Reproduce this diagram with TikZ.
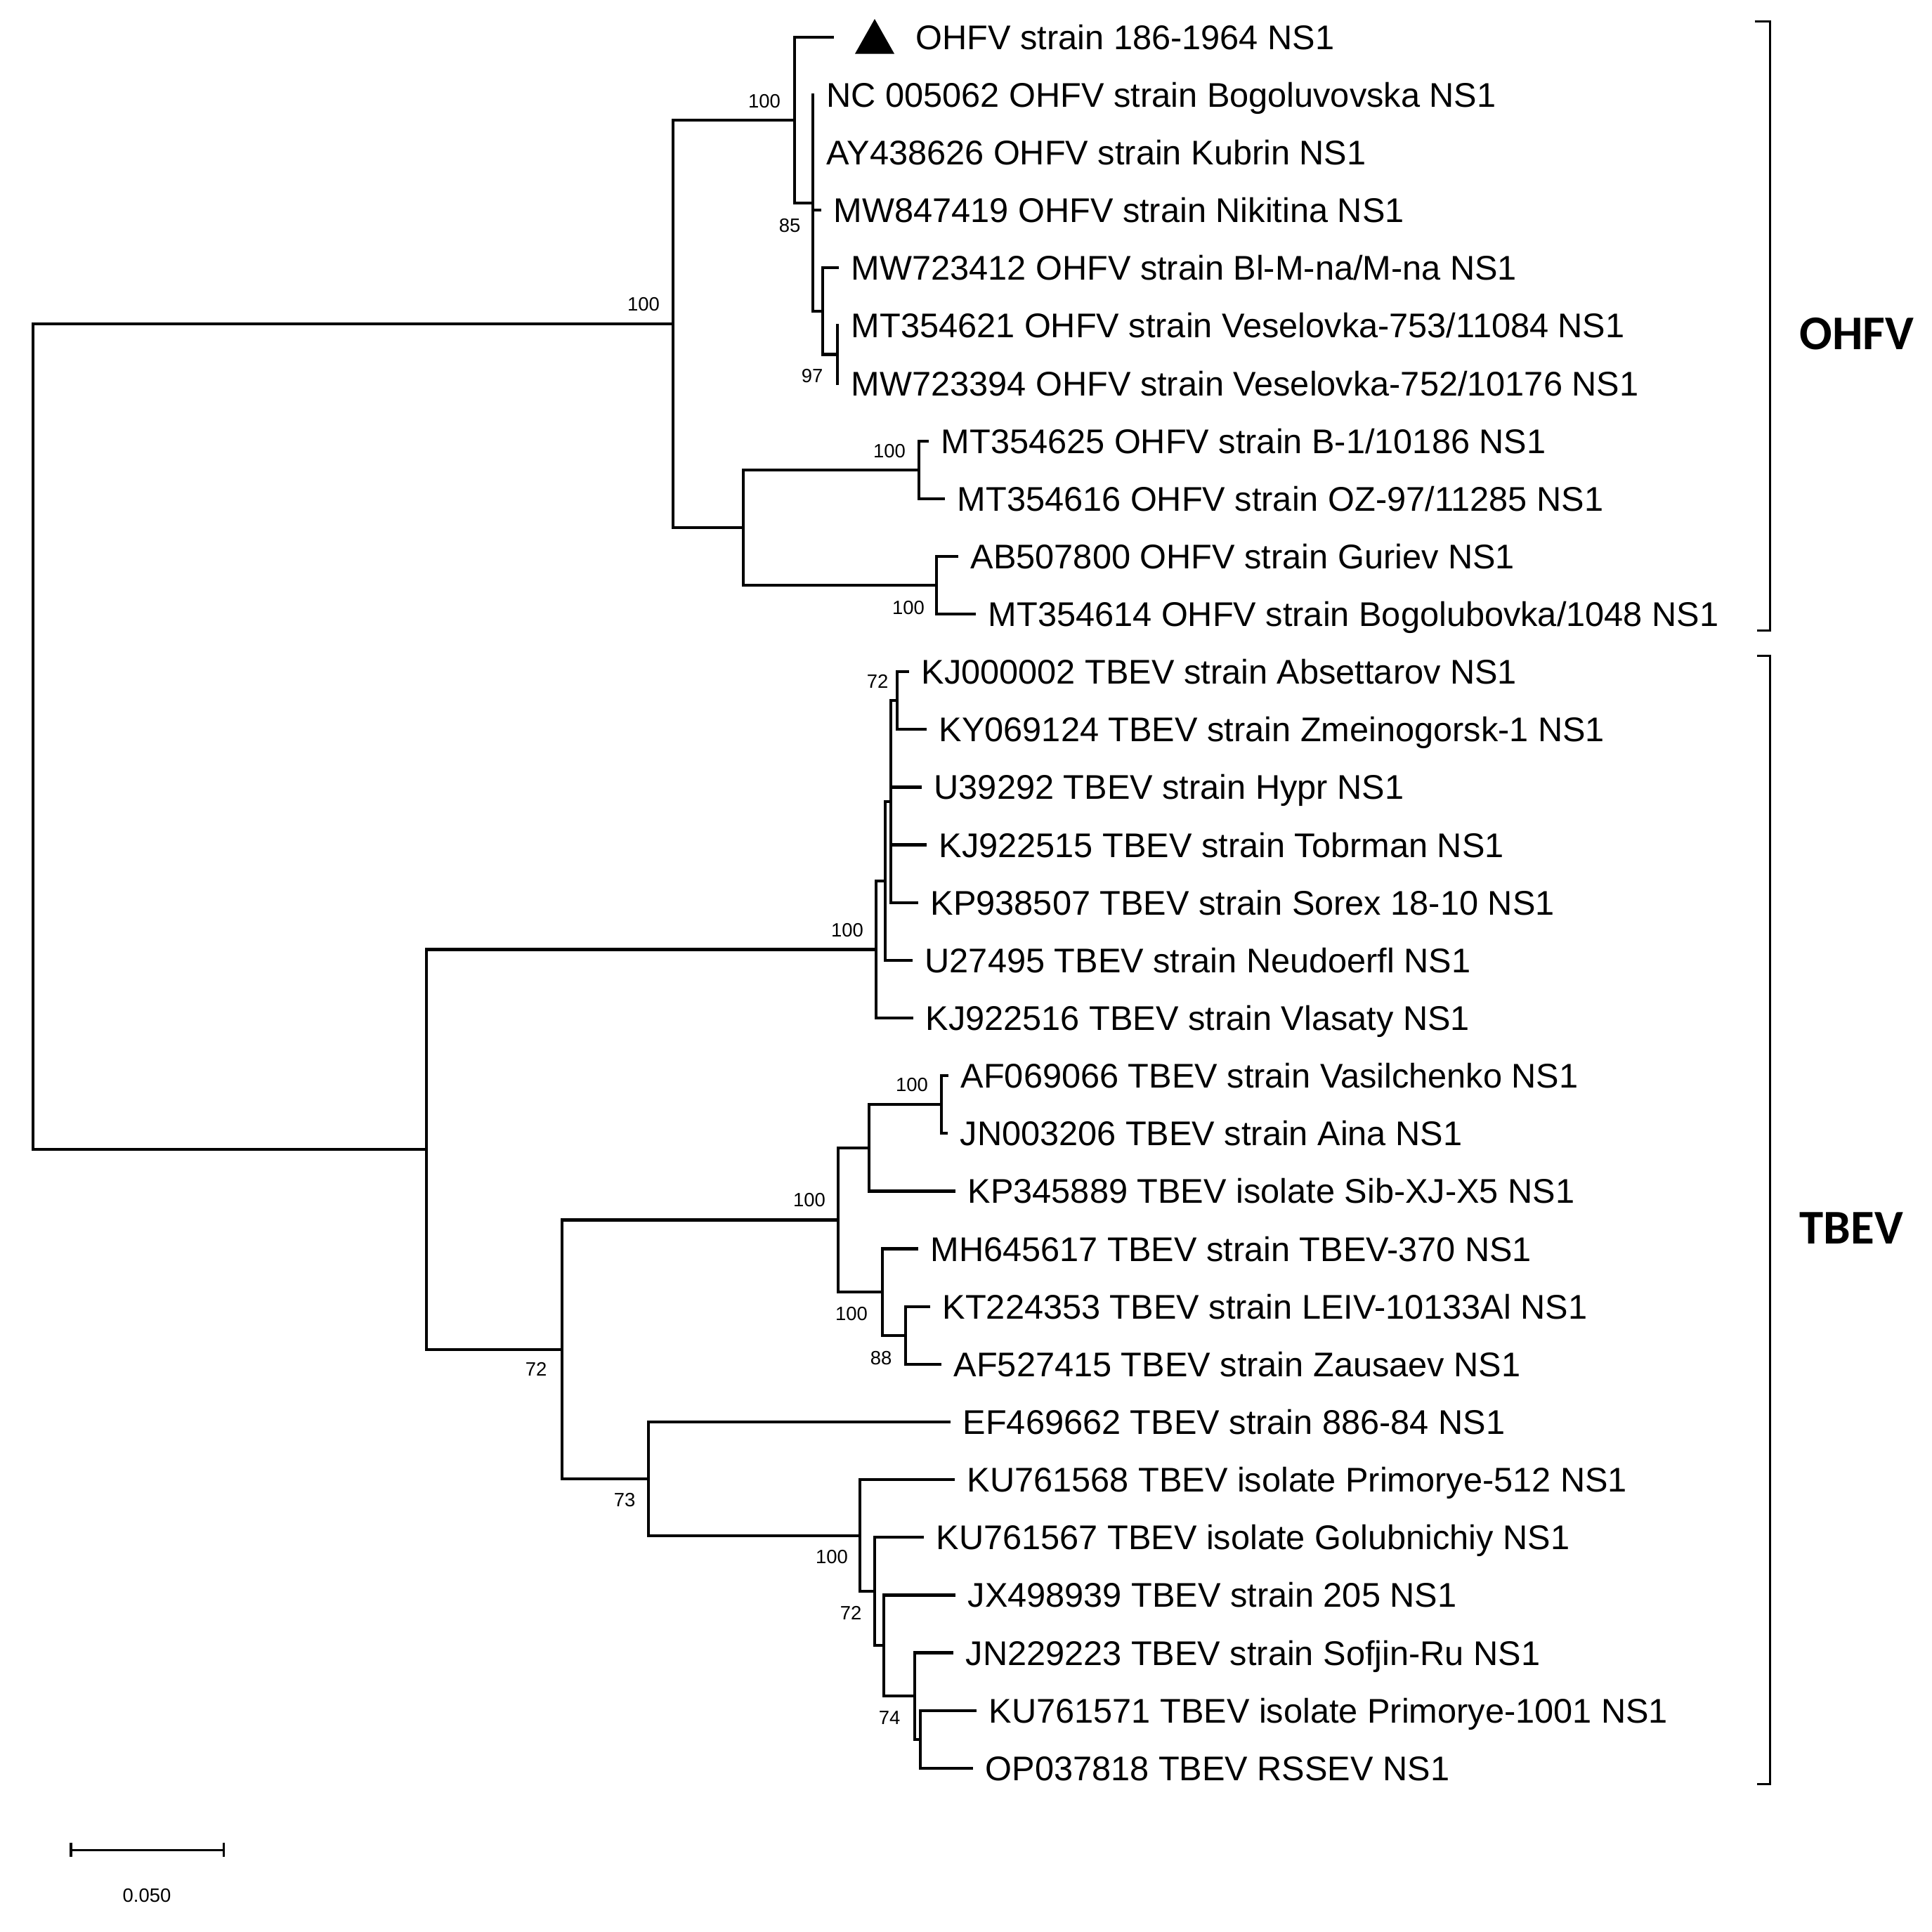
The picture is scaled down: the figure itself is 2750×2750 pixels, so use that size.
\documentclass[tikz,border=0pt]{standalone}
\usepackage{fontspec}
\setmainfont{Liberation Sans}
\newfontfamily\grpfont{Carlito}
\begin{document}
\begin{tikzpicture}[x=0.01cm,y=-0.01cm,
  br/.style={line width=0.042cm, line cap=rect},
  thin/.style={line width=0.03cm},
  tiplab/.style={anchor=base west, inner sep=0pt, font=\fontsize{13.85pt}{16pt}\selectfont},
  bs/.style={inner sep=0pt, font=\fontsize{7.8pt}{9pt}\selectfont},
  grp/.style={anchor=base west, inner sep=0pt, font=\grpfont\bfseries\fontsize{19.6pt}{22pt}\selectfont}]
\fill[white] (0,0) rectangle (2750,2750);
\useasboundingbox (0,0) rectangle (2750,2750);

% internal nodes
\coordinate (R) at (47,1048.5);
\coordinate (O1) at (958,460.8);
\coordinate (O2) at (1131,170.8);
\coordinate (O3) at (1157,289);
\coordinate (O4) at (1171,442.6);
\coordinate (O5) at (1192,504.4);
\coordinate (O6) at (1058,750.9);
\coordinate (O7) at (1308,668.7);
\coordinate (O8) at (1333,833);
\coordinate (B0) at (607,1636.1);
\coordinate (A) at (1247,1351.5);
\coordinate (B) at (1260,1253.9);
\coordinate (C) at (1268,1141.0);
\coordinate (D) at (1277,997.2);
\coordinate (P) at (800,1920.7);
\coordinate (E) at (1193,1736.5);
\coordinate (F) at (1237,1633.8);
\coordinate (G) at (1340,1572.2);
\coordinate (H) at (1256,1839.1);
\coordinate (I) at (1289,1900.7);
\coordinate (Q) at (923,2104.8);
\coordinate (J) at (1224,2185.7);
\coordinate (K) at (1245,2265.2);
\coordinate (L) at (1258,2342.3);
\coordinate (M) at (1302,2414.1);
\coordinate (N) at (1310,2475.8);
% tips
\coordinate (t1) at (1185,52.6);
\coordinate (t2) at (1157,134.7);
\coordinate (t3) at (1157,216.9);
\coordinate (t4) at (1167,299.0);
\coordinate (t5) at (1192,381.1);
\coordinate (t6) at (1192,463.3);
\coordinate (t7) at (1192,545.5);
\coordinate (t8) at (1320,627.6);
\coordinate (t9) at (1343,709.7);
\coordinate (t10) at (1362,791.9);
\coordinate (t11) at (1387,874.0);
\coordinate (t12) at (1292,956.1);
\coordinate (t13) at (1317,1038.3);
\coordinate (t14) at (1310,1120.4);
\coordinate (t15) at (1317,1202.5);
\coordinate (t16) at (1305,1284.7);
\coordinate (t17) at (1297,1366.8);
\coordinate (t18) at (1298,1449.0);
\coordinate (t19) at (1348,1531.1);
\coordinate (t20) at (1347,1613.3);
\coordinate (t21) at (1358,1695.4);
\coordinate (t22) at (1305,1777.5);
\coordinate (t23) at (1322,1859.7);
\coordinate (t24) at (1338,1941.8);
\coordinate (t25) at (1351,2024.0);
\coordinate (t26) at (1357,2106.1);
\coordinate (t27) at (1313,2188.2);
\coordinate (t28) at (1358,2270.4);
\coordinate (t29) at (1355,2352.5);
\coordinate (t30) at (1388,2434.7);
\coordinate (t31) at (1383,2516.8);

% branches
\foreach \p/\c in {R/O1,R/B0,O1/O2,O1/O6,O2/t1,O2/O3,O3/t2,O3/t3,O3/t4,O3/O4,
  O4/t5,O4/O5,O5/t6,O5/t7,O6/O7,O6/O8,O7/t8,O7/t9,O8/t10,O8/t11,
  B0/A,B0/P,A/B,A/t18,B/C,B/t17,C/D,C/t14,C/t15,C/t16,D/t12,D/t13,
  P/E,P/Q,E/F,E/H,F/G,F/t21,G/t19,G/t20,H/t22,H/I,I/t23,I/t24,
  Q/t25,Q/J,J/t26,J/K,K/t27,K/L,L/t28,L/M,M/t29,M/N,N/t30,N/t31}
  \draw[br] (\p) |- (\c);

% marker triangle
\fill (1217,76.5) -- (1273,76.5) -- (1245,27) -- cycle;

% tip labels
\node[tiplab] (l1) at ([shift={(118,17.5)}]t1) {OHFV strain 186-1964 NS1};
\node[tiplab] (l2) at ([shift={(19,17.5)}]t2) {NC 005062 OHFV strain Bogoluvovska NS1};
\node[tiplab] (l3) at ([shift={(19,17.5)}]t3) {AY438626 OHFV strain Kubrin NS1};
\node[tiplab] (l4) at ([shift={(19,17.5)}]t4) {MW847419 OHFV strain Nikitina NS1};
\node[tiplab] (l5) at ([shift={(19,17.5)}]t5) {MW723412 OHFV strain Bl-M-na/M-na NS1};
\node[tiplab] (l6) at ([shift={(19,17.5)}]t6) {MT354621 OHFV strain Veselovka-753/11084 NS1};
\node[tiplab] (l7) at ([shift={(19,17.5)}]t7) {MW723394 OHFV strain Veselovka-752/10176 NS1};
\node[tiplab] (l8) at ([shift={(19,17.5)}]t8) {MT354625 OHFV strain B-1/10186 NS1};
\node[tiplab] (l9) at ([shift={(19,17.5)}]t9) {MT354616 OHFV strain OZ-97/11285 NS1};
\node[tiplab] (l10) at ([shift={(19,17.5)}]t10) {AB507800 OHFV strain Guriev NS1};
\node[tiplab] (l11) at ([shift={(19,17.5)}]t11) {MT354614 OHFV strain Bogolubovka/1048 NS1};
\node[tiplab] (l12) at ([shift={(19,17.5)}]t12) {KJ000002 TBEV strain Absettarov NS1};
\node[tiplab] (l13) at ([shift={(19,17.5)}]t13) {KY069124 TBEV strain Zmeinogorsk-1 NS1};
\node[tiplab] (l14) at ([shift={(19,17.5)}]t14) {U39292 TBEV strain Hypr NS1};
\node[tiplab] (l15) at ([shift={(19,17.5)}]t15) {KJ922515 TBEV strain Tobrman NS1};
\node[tiplab] (l16) at ([shift={(19,17.5)}]t16) {KP938507 TBEV strain Sorex 18-10 NS1};
\node[tiplab] (l17) at ([shift={(19,17.5)}]t17) {U27495 TBEV strain Neudoerfl NS1};
\node[tiplab] (l18) at ([shift={(19,17.5)}]t18) {KJ922516 TBEV strain Vlasaty NS1};
\node[tiplab] (l19) at ([shift={(19,17.5)}]t19) {AF069066 TBEV strain Vasilchenko NS1};
\node[tiplab] (l20) at ([shift={(19,17.5)}]t20) {JN003206 TBEV strain Aina NS1};
\node[tiplab] (l21) at ([shift={(19,17.5)}]t21) {KP345889 TBEV isolate Sib-XJ-X5 NS1};
\node[tiplab] (l22) at ([shift={(19,17.5)}]t22) {MH645617 TBEV strain TBEV-370 NS1};
\node[tiplab] (l23) at ([shift={(19,17.5)}]t23) {KT224353 TBEV strain LEIV-10133Al NS1};
\node[tiplab] (l24) at ([shift={(19,17.5)}]t24) {AF527415 TBEV strain Zausaev NS1};
\node[tiplab] (l25) at ([shift={(19,17.5)}]t25) {EF469662 TBEV strain 886-84 NS1};
\node[tiplab] (l26) at ([shift={(19,17.5)}]t26) {KU761568 TBEV isolate Primorye-512 NS1};
\node[tiplab] (l27) at ([shift={(19,17.5)}]t27) {KU761567 TBEV isolate Golubnichiy NS1};
\node[tiplab] (l28) at ([shift={(19,17.5)}]t28) {JX498939 TBEV strain 205 NS1};
\node[tiplab] (l29) at ([shift={(19,17.5)}]t29) {JN229223 TBEV strain Sofjin-Ru NS1};
\node[tiplab] (l30) at ([shift={(19,17.5)}]t30) {KU761571 TBEV isolate Primorye-1001 NS1};
\node[tiplab] (l31) at ([shift={(19,17.5)}]t31) {OP037818 TBEV RSSEV NS1};

% bootstrap values
\node[bs] (bO1) at (916,433) {100};
\node[bs] (bO2) at (1088,144) {100};
\node[bs] (bO3) at (1124,321) {85};
\node[bs] (bO5) at (1156,535) {97};
\node[bs] (bO7) at (1266,642) {100};
\node[bs] (bO8) at (1293,865) {100};
\node[bs] (bD) at (1249,970) {72};
\node[bs] (bA) at (1206,1324) {100};
\node[bs] (bG) at (1298,1544) {100};
\node[bs] (bE) at (1152,1708) {100};
\node[bs] (bH) at (1212,1870) {100};
\node[bs] (bI) at (1254,1933) {88};
\node[bs] (bP) at (763,1949) {72};
\node[bs] (bQ) at (889,2135) {73};
\node[bs] (bJ) at (1184,2216) {100};
\node[bs] (bK) at (1211,2296) {72};
\node[bs] (bM) at (1266,2445) {74};

% group brackets
\coordinate (ob1) at (2498,30);
\coordinate (ob2) at (2519,30);
\coordinate (ob3) at (2519,897);
\coordinate (ob4) at (2501,897);
\draw[thin] (ob1) -- (ob2) -- (ob3) -- (ob4);
\coordinate (tb1) at (2501,933);
\coordinate (tb2) at (2519,933);
\coordinate (tb3) at (2519,2539);
\coordinate (tb4) at (2501,2539);
\draw[thin] (tb1) -- (tb2) -- (tb3) -- (tb4);
\node[grp] (gO) at (2561,497) {OHFV};
\node[grp] (gT) at (2561,1770) {TBEV};

% scale bar
\coordinate (sb1) at (101,2633);
\coordinate (sb2) at (318,2633);
\draw[thin] (sb1) -- (sb2);
\draw[thin] ([yshift=0.105cm]sb1) -- ([yshift=-0.1cm]sb1);
\draw[thin] ([yshift=0.105cm]sb2) -- ([yshift=-0.1cm]sb2);
\node[bs] (sbl) at (209,2698) {0.050};
\end{tikzpicture}
\end{document}
